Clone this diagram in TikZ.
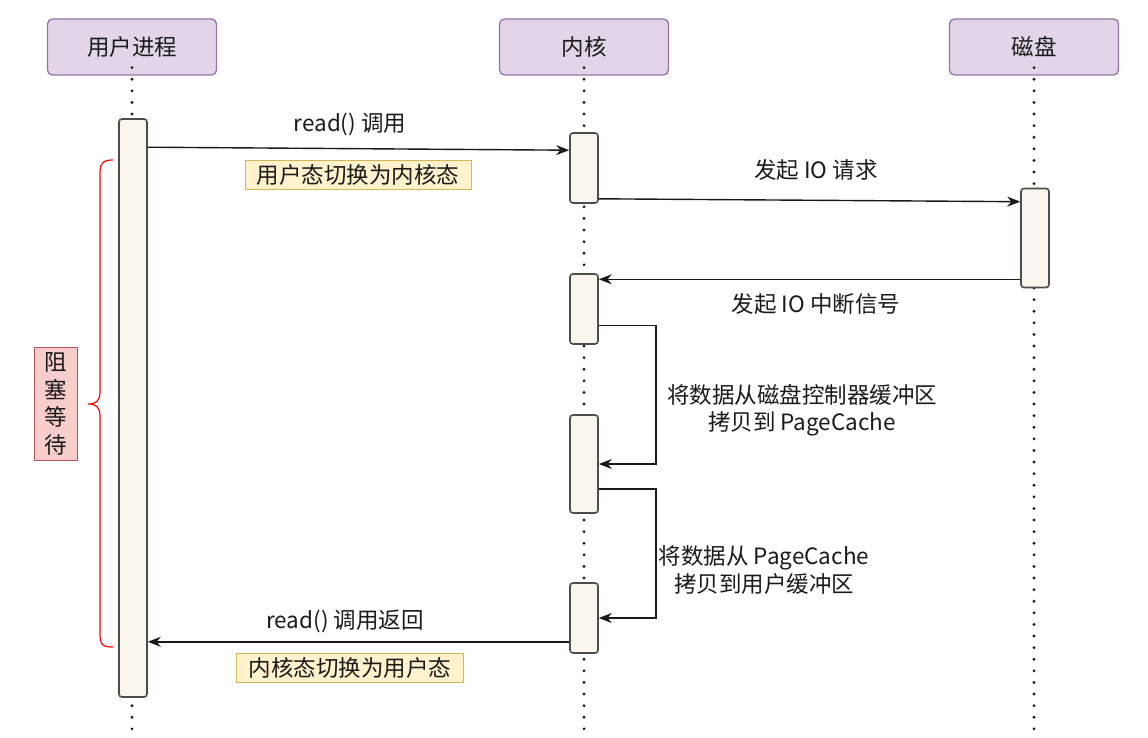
\documentclass[tikz,border=0pt]{standalone}
\usepackage{fontspec}
\setmainfont{Noto Sans CJK SC}
\usetikzlibrary{arrows.meta,calc}
\definecolor{actorF}{HTML}{E1D5E7}
\definecolor{actorD}{HTML}{9673A6}
\definecolor{actF}{HTML}{F9F7ED}
\definecolor{actD}{HTML}{4D4D4D}
\definecolor{noteF}{HTML}{FFF2CC}
\definecolor{noteD}{HTML}{D6B656}
\definecolor{waitF}{HTML}{F8CECC}
\definecolor{waitD}{HTML}{B85450}
\definecolor{ink}{HTML}{1A1A1A}
\begin{document}
\begin{tikzpicture}[x=1pt,y=-1pt,
  every node/.style={font=\fontsize{22.5}{27.5}\selectfont, text=ink},
  actor/.style={draw=actorD, fill=actorF, line width=1.3pt, rounded corners=5pt,
    minimum width=169pt, minimum height=56pt, inner sep=0pt},
  act/.style={draw=actD, fill=actF, line width=1.6pt, rounded corners=3pt,
    minimum width=28pt, inner sep=0pt},
  life/.style={line width=3.2pt, line cap=round, dash pattern=on 0pt off 11.6pt, ink},
  msg/.style={line width=1.4pt, ink, -{Stealth[length=13pt,width=10pt]}},
  note/.style={draw=noteD, fill=noteF, line width=1pt, inner sep=0pt,
    minimum height=29pt},
  lbl/.style={align=center, inner sep=0pt},
  waitbox/.style={draw=waitD, fill=waitF, line width=1.2pt, inner sep=0pt,
    minimum width=43pt, minimum height=113pt, align=center}
]
\useasboundingbox (0,0) rectangle (1148,738);
\coordinate (bot) at (0,738);

% participants
\node[actor] (pu) at (132,47) {用户进程};
\node[actor] (pk) at (584,47) {内核};
\node[actor] (pd) at (1034,47) {磁盘};

% lifelines
\draw[life] ([yshift=8]pu.south) -- (pu.south |- bot);
\draw[life] ([yshift=8]pk.south) -- (pk.south |- bot);
\draw[life] ([yshift=8]pd.south) -- (pd.south |- bot);

% activation bars
\node[act, minimum height=578pt] (u)  at (133,408) {};
\node[act, minimum height=70pt]  (k1) at (584,168) {};
\node[act, minimum height=99pt]  (d)  at (1035,238) {};
\node[act, minimum height=70pt]  (k2) at (584,309) {};
\node[act, minimum height=98pt]  (k3) at (584,464) {};
\node[act, minimum height=70pt]  (k4) at (584,618) {};

% read() call
\draw[msg] ([yshift=-29]u.north east) -- ([yshift=-18]k1.north west);
\node[lbl] (t1) at (350,125) {read() 调用};
\node[note, minimum width=226pt] (n1) at (358,175) {用户态切换为内核态};

% I/O request
\draw[msg] ([yshift=5]k1.south east) -- ([yshift=-14]d.north west);
\node[lbl] (t2) at (816,170) {发起 IO 请求};

% interrupt
\draw[msg] ([yshift=9]d.south west) coordinate (i0) -- (k2.east |- i0);
\node[lbl] (t3) at (816,304) {发起 IO 中断信号};

% copy to page cache
\draw[msg] ([yshift=-52]k2.north east) -- ++(57,0) |- (k3.east);
\node[lbl] (t4) at (802,410) {将数据从磁盘控制器缓冲区\\拷贝到 PageCache};

% copy to user buffer
\draw[msg] ([yshift=25]k3.south east) -- ++(57,0) |- (k4.east);
\node[lbl] (t5) at (764,570) {将数据从 PageCache\\拷贝到用户缓冲区};

% return
\draw[msg] ([yshift=12]k4.south west) coordinate (r0) -- (u.east |- r0);
\node[lbl] (t6) at (345,621) {read() 调用返回};
\node[note, minimum width=227pt] (n2) at (350,668) {内核态切换为用户态};

% blocked span
\draw[red, line width=1.2pt]
  (113,160) .. controls (103,160) and (100,163) .. (100,174) -- (100,392)
  .. controls (100,401) and (96,404) .. (88,404)
  .. controls (96,404) and (100,407) .. (100,416) -- (100,634)
  .. controls (100,645) and (103,647) .. (113,647);
\node[waitbox] (w) at (56,404) {阻\\塞\\等\\待};
\end{tikzpicture}
\end{document}
